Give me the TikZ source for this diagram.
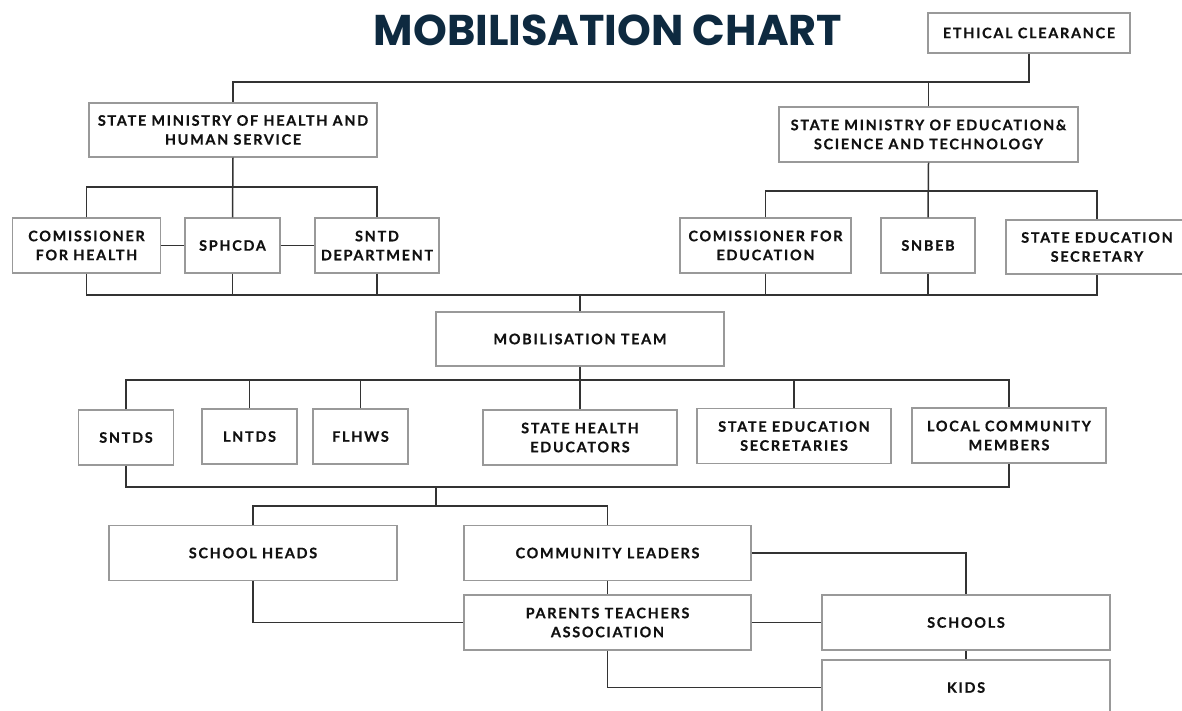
\documentclass[tikz,border=0pt]{standalone}
\usepackage{fontspec}
\setmainfont{Lato}
\newfontfamily\titlefont{Poppins}
\newfontfamily\boxfontfam{Lato}[LetterSpace=12, BoldFeatures={FakeBold=0.6}]
\definecolor{titlecol}{HTML}{0E2A40}
\definecolor{linecol}{HTML}{333333}
\definecolor{bordercol}{HTML}{999999}
\definecolor{textcol}{HTML}{111111}
\begin{document}
\begin{tikzpicture}[x=1pt,y=-1pt,
  bx/.style={draw=bordercol, line width=1.1pt, fill=white, inner sep=0pt, align=center,
    text=textcol, font=\boxfontfam\bfseries\fontsize{14.4}{19}\selectfont},
  ln/.style={draw=linecol, line width=1.5pt}]
\useasboundingbox (0,0) rectangle (1182,711);
\clip (0,0) rectangle (1182,711);
\fill[white] (0,0) rectangle (1182,711);

\node[anchor=base, text=titlecol, font=\titlefont\bfseries\fontsize{43}{45}\selectfont] (title) at (608,46) {MOBILISATION CHART};

% boxes
\node[bx, minimum width=202pt, minimum height=40pt] (eth) at (1029,33) {ETHICAL CLEARANCE};
\node[bx, minimum width=288pt, minimum height=54pt] (smh) at (233,130) {STATE MINISTRY OF HEALTH AND\\HUMAN SERVICE};
\node[bx, minimum width=299pt, minimum height=55pt] (sme) at (928.5,134.5) {STATE MINISTRY OF EDUCATION\&\\SCIENCE AND TECHNOLOGY};
\node[bx, minimum width=148pt, minimum height=55pt] (cfh) at (86.5,245.5) {COMISSIONER\\FOR HEALTH};
\node[bx, minimum width=95pt, minimum height=55pt] (sph) at (232.5,245.5) {SPHCDA};
\node[bx, minimum width=124pt, minimum height=55pt] (sntd) at (377,245.5) {SNTD\\DEPARTMENT};
\node[bx, minimum width=171pt, minimum height=55pt] (cfe) at (765.5,245.5) {COMISSIONER FOR\\EDUCATION};
\node[bx, minimum width=94pt, minimum height=55pt] (snbeb) at (928,245.5) {SNBEB};
\node[bx, minimum width=182pt, minimum height=54pt] (ses) at (1097,247) {STATE EDUCATION\\SECRETARY};
\node[bx, minimum width=288pt, minimum height=54pt] (mt) at (580,339) {MOBILISATION TEAM};
\node[bx, minimum width=95pt, minimum height=55pt] (sntds) at (126,437.5) {SNTDS};
\node[bx, minimum width=95pt, minimum height=55pt] (lntds) at (249.5,436.5) {LNTDS};
\node[bx, minimum width=95pt, minimum height=55pt] (flhws) at (360.5,436.5) {FLHWS};
\node[bx, minimum width=194pt, minimum height=55pt] (she) at (580,437.5) {STATE HEALTH\\EDUCATORS};
\node[bx, minimum width=194pt, minimum height=55pt] (sesec) at (794,436) {STATE EDUCATION\\SECRETARIES};
\node[bx, minimum width=194pt, minimum height=55pt] (lcm) at (1009,435.5) {LOCAL COMMUNITY\\MEMBERS};
\node[bx, minimum width=288pt, minimum height=55pt] (sh) at (253,553) {SCHOOL HEADS};
\node[bx, minimum width=287pt, minimum height=55pt] (cl) at (607.5,553) {COMMUNITY LEADERS};
\node[bx, minimum width=287pt, minimum height=55pt] (pta) at (607.5,622.5) {PARENTS TEACHERS\\ASSOCIATION};
\node[bx, minimum width=288pt, minimum height=55pt] (sch) at (966,622.5) {SCHOOLS};
\node[bx, minimum width=288pt, minimum height=55pt] (kids) at (966,687.5) {KIDS};

% junction levels
\coordinate (j0) at (0,82);
\coordinate (j1) at (0,187);
\coordinate (j2) at (0,191);
\coordinate (j3) at (0,295);
\coordinate (j4) at (0,380);
\coordinate (j5) at (436,487);
\coordinate (j6) at (436,506);

% connectors
\draw[ln] (eth.south) -- (eth.south |- j0) -| (smh.north);
\draw[ln] (sme.north) -- (sme.north |- j0);
\draw[ln] (smh.south) -- (sph.north);
\draw[ln] (cfh.north) -- (cfh.north |- j1) -| (sntd.north);
\draw[ln] (cfh.east) -- (sph.west);
\draw[ln] (sph.east) -- (sntd.west);
\draw[ln] (sme.south) -- (snbeb.north);
\draw[ln] (cfe.north) -- (cfe.north |- j2) -| (ses.north);
\draw[ln] (cfh.south) -- (cfh.south |- j3) -| (ses.south);
\draw[ln] (sph.south) -- (sph.south |- j3);
\draw[ln] (sntd.south) -- (sntd.south |- j3);
\draw[ln] (cfe.south) -- (cfe.south |- j3);
\draw[ln] (snbeb.south) -- (snbeb.south |- j3);
\draw[ln] (mt.north) -- (mt.north |- j3);
\draw[ln] (mt.south) -- (she.north);
\draw[ln] (sntds.north) -- (sntds.north |- j4) -| (lcm.north);
\draw[ln] (lntds.north) -- (lntds.north |- j4);
\draw[ln] (flhws.north) -- (flhws.north |- j4);
\draw[ln] (sesec.north) -- (sesec.north |- j4);
\draw[ln] (sntds.south) -- (sntds.south |- j5) -| (lcm.south);
\draw[ln] (j5) -- (j6);
\draw[ln] (sh.north) -- (sh.north |- j6) -| (cl.north);
\draw[ln] (sh.south) |- (pta.west);
\draw[ln] (cl.south) -- (pta.north);
\draw[ln] (cl.east) -| (sch.north);
\draw[ln] (pta.east) -- (sch.west);
\draw[ln] (sch.south) -- (kids.north);
\draw[ln] (pta.south) |- (kids.west);
\end{tikzpicture}
\end{document}
